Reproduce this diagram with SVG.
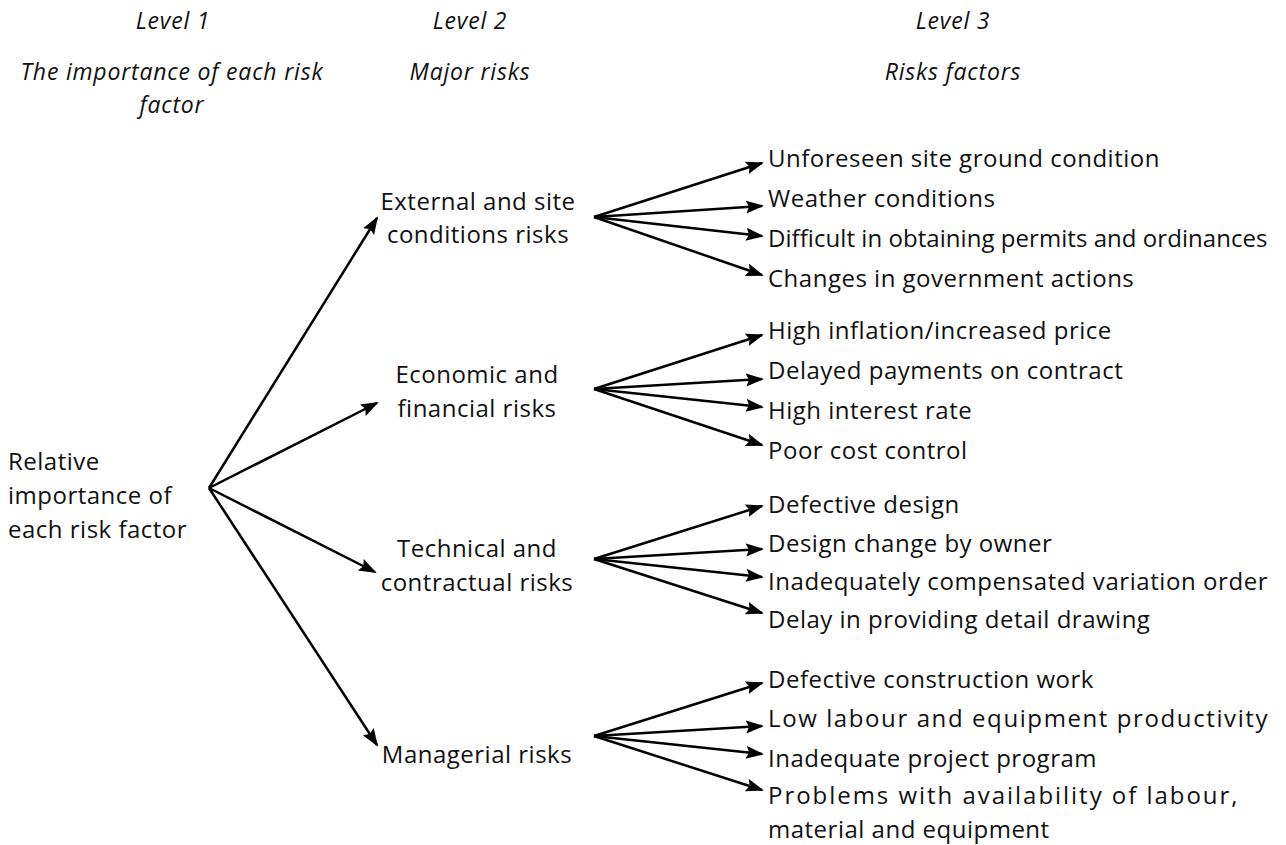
<svg xmlns="http://www.w3.org/2000/svg" width="1286" height="845" viewBox="0 0 1286 845">
<style>
text{font-family:"Open Sans","Liberation Sans",Arial,sans-serif;font-size:24px;letter-spacing:0.5px;fill:#111}
.h{font-style:italic;text-anchor:middle;font-size:23px;letter-spacing:0.8px}
.m{text-anchor:middle}
.c line{stroke:#000;stroke-width:2.5;marker-end:url(#ah)}
</style>
<defs>
<marker id="ah" markerUnits="userSpaceOnUse" markerWidth="19" markerHeight="14" refX="16" refY="6.5" orient="auto">
<path d="M0,0 L18,6.5 L0,13 L3,6.5 z" fill="#000"/>
</marker>
</defs>
<rect width="1286" height="845" fill="#fff"/>
<g id="headers">
<text class="h" x="173" y="29">Level 1</text>
<text class="h" x="172" y="80">The importance of each risk</text>
<text class="h" x="172" y="113">factor</text>
<text class="h" x="470" y="29">Level 2</text>
<text class="h" x="470" y="80">Major risks</text>
<text class="h" x="953" y="29">Level 3</text>
<text class="h" x="953" y="80">Risks factors</text>
</g>
<g id="root">
<text x="8" y="470">Relative</text>
<text x="8" y="504">importance of</text>
<text x="8" y="538">each risk factor</text>
</g>
<g id="external">
<text class="m" x="478" y="210">External and site</text>
<text class="m" x="478" y="243">conditions risks</text>
</g>
<g id="economic">
<text class="m" x="477" y="383">Economic and</text>
<text class="m" x="477" y="417">financial risks</text>
</g>
<g id="technical">
<text class="m" x="477" y="557">Technical and</text>
<text class="m" x="477" y="591">contractual risks</text>
</g>
<g id="managerial">
<text class="m" x="477" y="763">Managerial risks</text>
</g>
<g id="f1"><text x="768" y="167">Unforeseen site ground condition</text></g>
<g id="f2"><text x="768" y="207">Weather conditions</text></g>
<g id="f3"><text x="768" y="247" textLength="500">Difficult in obtaining permits and ordinances</text></g>
<g id="f4"><text x="768" y="287">Changes in government actions</text></g>
<g id="f5"><text x="768" y="339">High inflation/increased price</text></g>
<g id="f6"><text x="768" y="379">Delayed payments on contract</text></g>
<g id="f7"><text x="768" y="419">High interest rate</text></g>
<g id="f8"><text x="768" y="459">Poor cost control</text></g>
<g id="f9"><text x="768" y="513">Defective design</text></g>
<g id="f10"><text x="768" y="552">Design change by owner</text></g>
<g id="f11"><text x="768" y="590" textLength="500">Inadequately compensated variation order</text></g>
<g id="f12"><text x="768" y="628">Delay in providing detail drawing</text></g>
<g id="f13"><text x="768" y="688">Defective construction work</text></g>
<g id="f14"><text x="768" y="727" textLength="500">Low labour and equipment productivity</text></g>
<g id="f15"><text x="768" y="767">Inadequate project program</text></g>
<g id="f16"><text x="768" y="804" textLength="470">Problems with availability of labour,</text><text x="768" y="838">material and equipment</text></g>
<g id="connectors" class="c">
<line x1="209" y1="488" x2="377" y2="218"/>
<line x1="209" y1="488" x2="377" y2="403"/>
<line x1="209" y1="488" x2="375" y2="572"/>
<line x1="209" y1="488" x2="377" y2="745"/>
<line x1="594" y1="217" x2="762" y2="163"/>
<line x1="594" y1="217" x2="762" y2="206"/>
<line x1="594" y1="217" x2="762" y2="236"/>
<line x1="594" y1="217" x2="762" y2="275"/>
<line x1="594" y1="389" x2="762" y2="335"/>
<line x1="594" y1="389" x2="762" y2="379"/>
<line x1="594" y1="389" x2="762" y2="407"/>
<line x1="594" y1="389" x2="762" y2="445"/>
<line x1="594" y1="559" x2="762" y2="506"/>
<line x1="594" y1="559" x2="762" y2="549"/>
<line x1="594" y1="559" x2="762" y2="577"/>
<line x1="594" y1="559" x2="762" y2="613"/>
<line x1="594" y1="736" x2="762" y2="683"/>
<line x1="594" y1="736" x2="762" y2="726"/>
<line x1="594" y1="736" x2="762" y2="754"/>
<line x1="594" y1="736" x2="762" y2="790"/>
</g>
</svg>
